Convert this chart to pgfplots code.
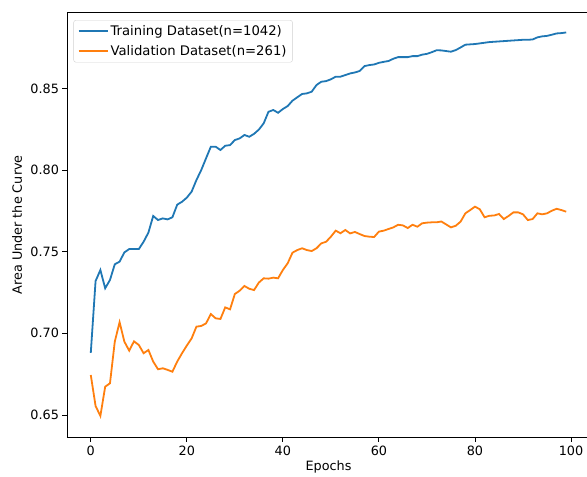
\documentclass[border=0pt]{standalone}
\usepackage{fontspec}
\setmainfont{DejaVu Sans}
\usepackage{pgfplots}
\pgfplotsset{compat=1.18}
\definecolor{tabblue}{HTML}{1F77B4}
\definecolor{taborange}{HTML}{FF7F0E}
\pgfplotstableread{
e t v
0 0.688 0.6745
1 0.732 0.6555
2 0.7388 0.6494
3 0.7276 0.6673
4 0.7327 0.6694
5 0.7423 0.6949
6 0.7439 0.7068
7 0.7496 0.6949
8 0.7516 0.6894
9 0.7516 0.6951
10 0.7516 0.6929
11 0.7561 0.6878
12 0.7617 0.6898
13 0.7719 0.6827
14 0.7694 0.6780
15 0.7704 0.6786
16 0.7698 0.6776
17 0.7711 0.6765
18 0.7788 0.6827
19 0.7806 0.6878
20 0.7831 0.6925
21 0.7868 0.6969
22 0.7939 0.7041
23 0.8000 0.7045
24 0.8072 0.7061
25 0.8143 0.7118
26 0.8143 0.7092
27 0.8123 0.7088
28 0.8149 0.7159
29 0.8153 0.7147
30 0.8184 0.7241
31 0.8194 0.7261
32 0.8215 0.7290
33 0.8204 0.7273
34 0.8222 0.7265
35 0.8248 0.7311
36 0.8286 0.7337
37 0.8357 0.7335
38 0.8368 0.7341
39 0.8351 0.7337
40 0.8374 0.7388
41 0.8392 0.7429
42 0.8425 0.7494
43 0.8446 0.7510
44 0.8466 0.7521
45 0.8470 0.7510
46 0.8480 0.7504
47 0.8521 0.7521
48 0.8541 0.7551
49 0.8545 0.7561
50 0.8556 0.7592
51 0.8572 0.7629
52 0.8572 0.7613
53 0.8582 0.7633
54 0.8592 0.7612
55 0.8598 0.7621
56 0.8607 0.7608
57 0.8637 0.7596
58 0.8643 0.7592
59 0.8647 0.7590
60 0.8657 0.7623
61 0.8663 0.7629
62 0.8668 0.7639
63 0.8682 0.7649
64 0.8692 0.7665
65 0.8692 0.7661
66 0.8692 0.7645
67 0.8698 0.7665
68 0.8698 0.7653
69 0.8707 0.7674
70 0.8712 0.7678
71 0.8722 0.7680
72 0.8734 0.7680
73 0.8733 0.7685
74 0.8729 0.7667
75 0.8725 0.7649
76 0.8735 0.7659
77 0.8751 0.7684
78 0.8768 0.7735
79 0.8770 0.7755
80 0.8772 0.7776
81 0.8776 0.7760
82 0.8780 0.7711
83 0.8784 0.7720
84 0.8786 0.7722
85 0.8788 0.7731
86 0.8790 0.7700
87 0.8792 0.7719
88 0.8794 0.7741
89 0.8796 0.7741
90 0.8798 0.7729
91 0.8798 0.7694
92 0.8800 0.7700
93 0.8813 0.7735
94 0.8819 0.7729
95 0.8822 0.7735
96 0.8829 0.7751
97 0.8837 0.7763
98 0.8839 0.7755
99 0.8843 0.7745
}\auc
\begin{document}
\begin{tikzpicture}[x=1pt,y=1pt]
\path[use as bounding box] (0,0) rectangle (587,477);
\begin{axis}[
  at={(67pt,40pt)}, anchor=south west,
  scale only axis, width=523pt, height=424.3pt,
  xmin=-4.95, xmax=103.95, ymin=0.6365, ymax=0.8964,
  xtick={0,20,40,60,80,100},
  ytick={0.65,0.70,0.75,0.80,0.85},
  yticklabel style={/pgf/number format/.cd, fixed, fixed zerofill, precision=2},
  /pgf/number format/assume math mode=true,
  tick align=outside, major tick length=4.5pt,
  tick style={line width=0.9pt, black},
  axis line style={line width=0.9pt},
  xtick pos=bottom, ytick pos=left,
  axis x line*=bottom, axis y line*=left,
  x axis line style={-}, y axis line style={-},
  font=\fontsize{12.8}{15}\selectfont,
  tick label style={font=\fontsize{12.8}{15}\selectfont},
  xticklabel style={yshift=-1pt},
  xlabel={Epochs}, ylabel={Area Under the Curve},
  xlabel style={at={(axis description cs:0.5,-0.0707)}, anchor=center},
  ylabel style={at={(axis description cs:-0.0956,0.5)}, anchor=center},
  legend style={at={(axis description cs:0.0122,0.9827)}, anchor=north west,
    draw=black!18, rounded corners=2.5pt, fill=white,
    font=\fontsize{13.2}{15}\selectfont, inner xsep=4pt, inner ysep=3.5pt,
    row sep=4pt, legend cell align=left},
  legend image code/.code={\draw[#1,line width=2pt] (0pt,0.4pt) -- (29pt,0.4pt);},
]
\addplot[tabblue, line width=1.8pt] table[x=e,y=t] {\auc};
\addlegendentry{Training Dataset(n=1042)}
\addplot[taborange, line width=1.8pt] table[x=e,y=v] {\auc};
\addlegendentry{Validation Dataset(n=261)}
\end{axis}
\draw[line width=0.9pt] (67,464.3) -- (590,464.3);
\end{tikzpicture}
\end{document}
